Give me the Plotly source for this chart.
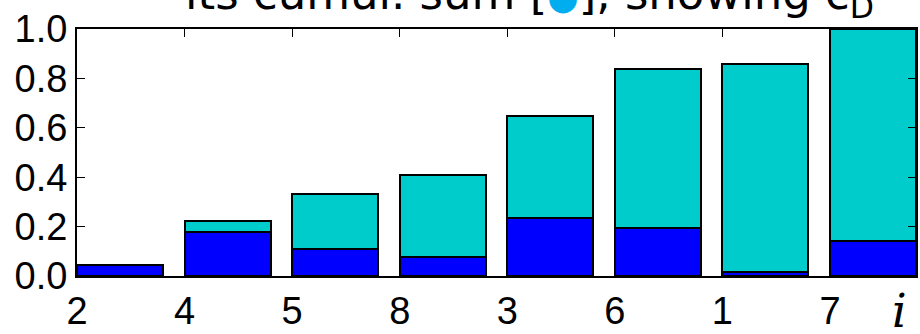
import numpy as np
import plotly.graph_objects as go

# Items in plotted order and their individual shares
labels = ["2", "4", "5", "8", "3", "6", "1", "7"]
shares = [0.044, 0.178, 0.110, 0.078, 0.236, 0.194, 0.017, 0.143]
y_ticks = [0.0, 0.2, 0.4, 0.6, 0.8, 1.0]

cumulative = np.cumsum(shares)
positions = np.arange(len(labels))

W, H = 920, 334
M_L, M_R, M_T, M_B = 77, 2, 29, 57
PLOT_H = H - M_T - M_B
BAR_W = 0.8
EDGE = dict(color="black", width=2)

fig = go.Figure()

# Running total behind, individual share in front
fig.add_trace(go.Bar(
    x=positions, y=cumulative, width=BAR_W, offset=0,
    marker=dict(color="#00CCCC", line=EDGE), showlegend=False,
))
fig.add_trace(go.Bar(
    x=positions, y=shares, width=BAR_W, offset=0,
    marker=dict(color="#0000FF", line=EDGE), showlegend=False,
))

tick_font = dict(family="Liberation Sans, Arial, sans-serif", size=38, color="black")

fig.update_layout(
    width=W, height=H,
    margin=dict(l=M_L, r=M_R, t=M_T, b=M_B, pad=0),
    paper_bgcolor="white", plot_bgcolor="white",
    barmode="overlay", bargap=0,
    xaxis=dict(
        range=[0, len(labels) - 1 + BAR_W],
        tickmode="array", tickvals=positions, ticktext=labels,
        ticks="inside", ticklen=8, tickwidth=1, tickcolor="black",
        showline=True, linecolor="black", linewidth=2, mirror="allticks",
        showgrid=False, zeroline=False, tickfont=tick_font,
    ),
    yaxis=dict(
        range=[0, 1], tickmode="array", tickvals=y_ticks,
        ticktext=[f"{v:.1f}" for v in y_ticks],
        ticks="inside", ticklen=8, tickwidth=1, tickcolor="black",
        showline=True, linecolor="black", linewidth=2, mirror="allticks",
        showgrid=False, zeroline=False, tickfont=tick_font,
    ),
)

# Title line along the top edge
fig.add_annotation(
    xref="paper", yref="paper", x=0.126, y=1.0 + 2 / PLOT_H,
    xanchor="left", yanchor="bottom", showarrow=False,
    text=("its cumul. sum [<span style='color:#00AEEF;font-size:36px'>●</span>],"
          " showing c<sub>D</sub>"),
    font=dict(family="DejaVu Sans", size=45, color="black"),
)

# Axis variable label at the lower right
fig.add_annotation(
    xref="paper", yref="paper", x=0.98, y=-64 / PLOT_H,
    xanchor="center", yanchor="bottom", showarrow=False,
    text="<i>i</i>",
    font=dict(family="DejaVu Serif", size=46, color="black"),
)

fig.write_html("out.html")
